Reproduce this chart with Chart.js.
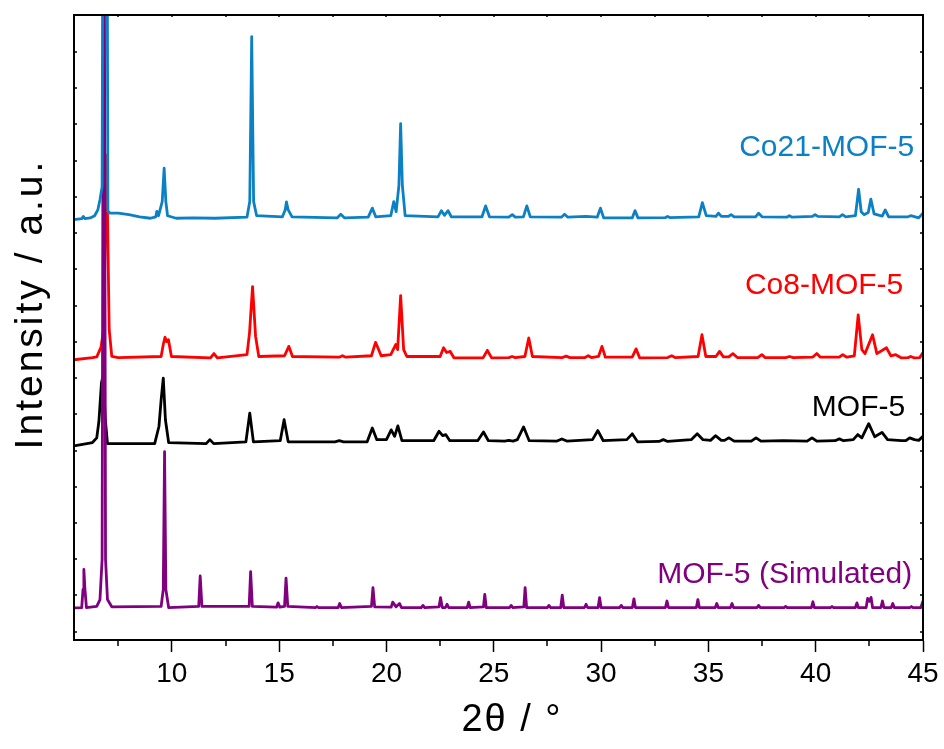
<!DOCTYPE html>
<html>
<head>
<meta charset="utf-8">
<title>XRD patterns</title>
<script src="https://cdn.jsdelivr.net/npm/chart.js@4.4.0/dist/chart.umd.min.js"></script>
<style>
    html, body { margin: 0; padding: 0; background: #fff; }
    #wrap { width: 944px; height: 749px; }
</style>
</head>
<body>
<div id="wrap"><canvas id="xrdChart" width="944" height="749"></canvas></div>
<script>
const seriesNames = ['Co21-MOF-5', 'Co8-MOF-5', 'MOF-5', 'MOF-5 (Simulated)'];
const seriesColors = ['#0B80C4', '#FF0000', '#000000', '#800080'];
// vertical stacking offset of each pattern (axis units)
const offsets = [11.42, 7.555, 5.23, 0.656];
const xTickLabels = [10, 15, 20, 25, 30, 35, 40, 45];

// [2theta, intensity above own baseline]
const co21 = [
    [5.44,-0.05],[5.8,-0.02],[5.87,0.04],[5.95,-0.02],[6.2,0],[6.4,0.06],[6.55,0.22],[6.65,0.5],[6.75,0.86],
    [6.82,16],[6.88,20],[6.95,16],[7.02,0.18],[7.12,0.13],[7.5,0.13],[8.0,0.09],[8.5,0.03],[9.0,-0.01],
    [9.25,0.03],[9.3,0.18],[9.38,0.06],[9.55,0.45],[9.64,1.37],[9.72,0.45],[9.8,0.06],[10.2,-0.01],[11.0,0],
    [12.0,-0.01],[13.5,0.02],[13.63,0.45],[13.72,5.0],[13.81,0.45],[13.95,0.06],[15.15,0.03],[15.28,0.22],
    [15.34,0.44],[15.42,0.22],[15.6,0.03],[17.7,0],[17.87,0.1],[18.05,0],[19.15,0.02],[19.34,0.27],[19.5,0.03],
    [20.2,0.06],[20.34,0.45],[20.45,0.17],[20.58,0.9],[20.66,2.6],[20.74,0.9],[20.87,0.06],[22.4,0.03],
    [22.56,0.2],[22.7,0.07],[22.87,0.2],[23.02,0.03],[24.45,0.03],[24.62,0.33],[24.8,0.03],[25.7,0.02],
    [25.86,0.09],[26.0,0.02],[26.38,0.03],[26.54,0.33],[26.7,0.03],[28.15,0.02],[28.3,0.1],[28.45,0.02],
    [29.3,0.04],[29.82,0.02],[29.97,0.27],[30.12,0],[31.45,0],[31.58,0.2],[31.72,0],[33.0,0.01],[33.1,0.04],
    [33.2,0.01],[34.55,0.03],[34.72,0.42],[34.9,0.06],[35.35,0.04],[35.47,0.13],[35.6,0.04],[35.92,0.04],
    [36.06,0.09],[36.2,0.03],[37.2,0.03],[37.34,0.13],[37.5,0.03],[38.65,0.02],[38.77,0.06],[38.9,0.02],
    [39.85,0.04],[39.97,0.09],[40.1,0.04],[41.1,0.03],[41.25,0.09],[41.4,0.03],[41.85,0.06],[42.0,0.79],
    [42.12,0.17],[42.25,0.09],[42.45,0.15],[42.57,0.52],[42.72,0.11],[43.1,0.05],[43.24,0.22],[43.4,0.03],
    [44.3,0.03],[44.43,0.06],[44.8,0],[45,0.13]
];
const co8 = [
    [5.44,-0.05],[6.3,0.01],[6.5,0.03],[6.7,0.3],[6.82,0.78],[6.96,5.6],[7.08,0.78],[7.2,0.04],[7.5,0.01],
    [9.5,0.04],[9.6,0.37],[9.68,0.57],[9.76,0.45],[9.84,0.5],[9.98,0.04],[11.8,0],[11.96,0.12],[12.12,0],
    [13.5,0.09],[13.62,0.7],[13.76,1.97],[13.9,0.6],[14.05,0.04],[15.25,0.06],[15.45,0.32],[15.62,0.04],
    [17.8,0.02],[17.95,0.06],[18.1,0.02],[19.3,0.06],[19.49,0.43],[19.6,0.28],[19.75,0.06],[20.2,0.09],
    [20.43,0.37],[20.52,0.23],[20.66,1.72],[20.8,0.23],[20.95,0.04],[22.5,0.04],[22.66,0.28],[22.8,0.15],
    [22.97,0.18],[23.15,0],[24.5,0],[24.7,0.21],[24.9,0],[25.7,0.01],[25.85,0.04],[26.0,0.01],[26.45,0.04],
    [26.63,0.55],[26.8,0.04],[28.2,0.01],[28.37,0.05],[28.55,0.01],[29.25,0.01],[29.4,0.06],[29.55,0.01],
    [29.88,0.04],[30.04,0.32],[30.2,0.02],[31.45,0.02],[31.63,0.25],[31.8,0],[33.1,0.01],[33.29,0.06],
    [33.45,0.01],[34.52,0.04],[34.7,0.64],[34.88,0.04],[35.35,0.04],[35.52,0.18],[35.7,0.03],[35.95,0.03],
    [36.14,0.12],[36.35,0.01],[37.3,0.01],[37.49,0.09],[37.65,0.01],[38.6,0.01],[38.78,0.04],[38.95,0.01],
    [39.85,0.02],[40.05,0.12],[40.22,0.02],[41.1,0.02],[41.26,0.09],[41.45,0.02],[41.8,0.06],[41.98,1.19],
    [42.15,0.23],[42.3,0.12],[42.65,0.64],[42.85,0.12],[43.3,0.28],[43.5,0.06],[43.73,0.09],[44.0,0],
    [44.3,0.01],[44.43,0.04],[44.6,0],[44.85,0.01],[45,0.15]
];
const mof5 = [
    [5.44,-0.1],[6.3,-0.01],[6.5,0.12],[6.6,0.57],[6.72,1.64],[6.8,1.85],[6.9,0.62],[7.0,-0.04],[9.2,-0.04],
    [9.4,0.44],[9.5,1.17],[9.6,1.77],[9.7,0.62],[9.85,-0.01],[11.6,-0.04],[11.77,0.07],[11.95,-0.04],
    [13.45,0.01],[13.63,0.8],[13.8,0.01],[15.05,0.04],[15.23,0.62],[15.42,0.01],[17.6,0.01],[17.8,0.04],
    [18.0,0.01],[19.1,0.01],[19.34,0.39],[19.55,0.07],[20.0,0.07],[20.22,0.34],[20.38,0.16],[20.53,0.45],
    [20.72,0.04],[22.2,0.04],[22.45,0.3],[22.62,0.18],[22.76,0.21],[22.95,0.04],[24.25,0.04],[24.52,0.28],
    [24.75,0.04],[25.5,0.03],[25.7,0.05],[25.9,0.03],[26.1,0.07],[26.39,0.42],[26.65,0.04],[27.95,0.03],
    [28.17,0.09],[28.4,0.03],[29.6,0.07],[29.85,0.32],[30.1,0.04],[31.2,0.07],[31.45,0.23],[31.7,0.01],
    [32.7,0.02],[32.9,0.07],[33.1,0.02],[34.2,0.07],[34.48,0.23],[34.75,0.07],[35.1,0.05],[35.33,0.18],
    [35.6,0.05],[35.75,0.05],[35.96,0.12],[36.2,0.03],[37.0,0.03],[37.22,0.12],[37.45,0.03],[38.5,0.04],
    [39.6,0.03],[39.83,0.12],[40.05,0.03],[40.9,0.04],[41.1,0.09],[41.3,0.04],[41.75,0.07],[41.96,0.21],
    [42.15,0.12],[42.47,0.51],[42.75,0.15],[43.09,0.27],[43.35,0.07],[44.0,0.04],[44.2,0.04],[44.38,0.12],
    [44.6,0.07],[44.8,0.05],[45,0.16]
];
const mof5Sim = [
    [5.44,0],[5.8,0.01],[5.86,0.51],[5.9,1.06],[5.95,0.51],[6.02,0.01],[6.5,0.04],[6.65,0.23],[6.75,1.34],
    [6.83,25],[6.91,1.34],[7.0,0.23],[7.2,0.03],[9.5,0.04],[9.6,0.51],[9.66,4.31],[9.72,0.51],[9.85,0.01],
    [11.25,0.04],[11.32,0.88],[11.4,0.04],[13.6,0.04],[13.67,1.0],[13.75,0.04],[14.88,0.02],[14.95,0.14],
    [15.03,0.02],[15.25,0.04],[15.32,0.82],[15.4,0.04],[16.7,0.01],[16.76,0.04],[16.82,0.01],[17.75,0.01],
    [17.82,0.12],[17.9,0.01],[19.3,0.04],[19.37,0.56],[19.45,0.03],[20.22,0.02],[20.29,0.16],[20.45,0.03],
    [20.61,0.12],[20.7,0.01],[21.62,0.01],[21.7,0.07],[21.78,0.01],[22.45,0.03],[22.52,0.28],[22.6,0.01],
    [22.75,0.01],[22.82,0.1],[22.9,0.01],[23.76,0.01],[23.83,0.16],[23.9,0.01],[24.52,0.03],[24.58,0.37],
    [24.65,0.01],[25.74,0.01],[25.81,0.07],[25.88,0.01],[26.4,0.03],[26.46,0.56],[26.53,0.01],[27.5,0.01],
    [27.57,0.07],[27.64,0.01],[28.12,0.01],[28.19,0.35],[28.26,0.01],[29.23,0.01],[29.3,0.1],[29.37,0.01],
    [29.86,0.01],[29.93,0.28],[30.0,0.01],[30.87,0.01],[30.94,0.07],[31.01,0.01],[31.46,0.01],[31.53,0.25],
    [31.6,0.01],[33.0,0.01],[33.07,0.19],[33.14,0.01],[34.44,0.01],[34.51,0.23],[34.58,0.01],[35.32,0.01],
    [35.39,0.12],[35.46,0.01],[36.03,0.01],[36.1,0.12],[36.17,0.01],[37.27,0.01],[37.34,0.07],[37.41,0.01],
    [38.53,0.01],[38.6,0.04],[38.67,0.01],[39.8,0.01],[39.87,0.17],[39.94,0.01],[40.7,0.01],[40.76,0.04],
    [40.82,0.01],[41.85,0.01],[41.92,0.14],[41.99,0.01],[42.35,0.01],[42.42,0.26],[42.5,0.18],[42.58,0.29],
    [42.65,0.01],[43.04,0.01],[43.11,0.19],[43.18,0.01],[43.52,0.01],[43.59,0.12],[43.66,0.01],[44.4,0.01],
    [44.46,0.04],[44.52,0.01],[44.9,0.01],[45,0.19]
];

const patterns = [co21, co8, mof5, mof5Sim];
const drawOrder = [0, 2, 3, 1]; // blue on top, then purple, red, black

const FONT = '"Liberation Sans", Arial, sans-serif';

// frame, minor ticks, inner ticks, titles and series labels
const framePlugin = {
    id: 'frame',
    afterDraw(chart) {
        const { ctx, chartArea: a, scales: { x, y } } = chart;
        ctx.save();
        ctx.strokeStyle = '#000';
        ctx.lineWidth = 2;
        ctx.strokeRect(a.left, a.top, a.right - a.left, a.bottom - a.top);

        ctx.lineWidth = 1.5;
        ctx.beginPath();
        for (let v = 7.5; v < 45; v += 5) {
            const px = Math.round(x.getPixelForValue(v));
            ctx.moveTo(px, a.bottom);
            ctx.lineTo(px, a.bottom + 6);
        }
        for (let v = 7.5; v <= 45; v += 2.5) {
            const px = Math.round(x.getPixelForValue(v));
            ctx.moveTo(px, a.top);
            ctx.lineTo(px, a.top + 2);
        }
        for (let v = 0; v <= 16; v++) {
            const py = Math.round(y.getPixelForValue(v));
            ctx.moveTo(a.left, py);
            ctx.lineTo(a.left + 3, py);
            ctx.moveTo(a.right, py);
            ctx.lineTo(a.right - 3, py);
        }
        ctx.stroke();

        // series names, right aligned near their traces
        const anchors = [[44.59, 13.13], [44.08, 9.31], [44.17, 5.94], [44.5, 1.33]];
        ctx.font = '30px ' + FONT;
        ctx.textAlign = 'right';
        ctx.textBaseline = 'alphabetic';
        seriesNames.forEach((name, i) => {
            ctx.fillStyle = seriesColors[i];
            ctx.fillText(name, x.getPixelForValue(anchors[i][0]), y.getPixelForValue(anchors[i][1]));
        });

        // axis titles
        ctx.fillStyle = '#000';
        ctx.font = '38px ' + FONT;
        ctx.textAlign = 'center';
        ctx.textBaseline = 'middle';
        ctx.letterSpacing = '2px';
        ctx.fillText('2\u03B8 / \u00B0', 512, 721);
        ctx.font = '39px ' + FONT;
        ctx.letterSpacing = '3px';
        ctx.translate(31, 304);
        ctx.rotate(-Math.PI / 2);
        ctx.fillText('Intensity / a.u.', 0, 0);
        ctx.restore();
    }
};

new Chart(document.getElementById('xrdChart'), {
    type: 'line',
    data: {
        datasets: patterns.map((pts, i) => ({
            label: seriesNames[i],
            data: pts.map(([t, v]) => ({ x: t, y: v + offsets[i] })),
            borderColor: seriesColors[i],
            borderWidth: 2.8,
            borderJoinStyle: 'round',
            pointRadius: 0,
            tension: 0,
            fill: false,
            order: drawOrder[i]
        }))
    },
    options: {
        responsive: false,
        animation: false,
        devicePixelRatio: 1,
        layout: { padding: { left: 74, right: 21, top: 15, bottom: 0 } },
        plugins: { legend: { display: false }, tooltip: { enabled: false } },
        scales: {
            x: {
                type: 'linear',
                min: 5.44,
                max: 45,
                afterFit: s => { s.height = 109; },
                border: { display: true, color: '#000', width: 2 },
                grid: {
                    drawOnChartArea: false,
                    drawTicks: true,
                    tickLength: 12,
                    tickWidth: 1.5,
                    tickColor: c => (c.tick && xTickLabels.includes(c.tick.value)) ? '#000' : 'rgba(0,0,0,0)'
                },
                ticks: {
                    stepSize: 2.5,
                    includeBounds: false,
                    autoSkip: false,
                    maxRotation: 0,
                    padding: 5,
                    color: '#000',
                    font: { family: FONT, size: 28 },
                    callback: v => xTickLabels.includes(v) ? String(v) : ''
                }
            },
            y: {
                type: 'linear',
                display: false,
                min: -0.23,
                max: 17.02
            }
        }
    },
    plugins: [framePlugin]
});
</script>
</body>
</html>
